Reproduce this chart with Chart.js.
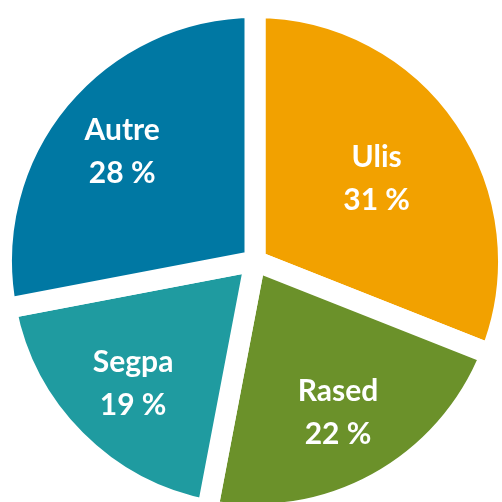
<!DOCTYPE html>
<html>
<head>
<meta charset="utf-8">
<script src="https://cdn.jsdelivr.net/npm/chart.js@4"></script>
<style>
  html, body { margin: 0; padding: 0; background: #fff; overflow: hidden; width: 502px; height: 502px; }
  #pie { position: absolute; left: -9px; top: -3px; }
</style>
</head>
<body>
<canvas id="pie" width="528" height="528"></canvas>
<script>
// parts of the pie, clockwise from the top
const categories = ['Ulis', 'Rased', 'Segpa', 'Autre'];
const shares = [31, 22, 19, 28];
const colours = ['#f2a100', '#6b912a', '#1f9ba0', '#0078a3'];
// how far out the label sits, as a share of the radius
const labelDistance = [0.58, 0.68, 0.68, 0.68];

document.addEventListener("DOMContentLoaded", function() {
    const ctx = document.getElementById('pie').getContext('2d');

    // writes "name" and "xx %" in the middle of each slice
    const sliceLabels = {
        id: 'sliceLabels',
        afterDatasetsDraw(chart) {
            const c = chart.ctx;
            const arcs = chart.getDatasetMeta(0).data;
            c.save();
            c.fillStyle = '#fff';
            c.textAlign = 'center';
            c.textBaseline = 'middle';
            c.font = 'bold 30px Lato';
            arcs.forEach((arc, i) => {
                const mid = (arc.startAngle + arc.endAngle) / 2;
                const r = arc.outerRadius * labelDistance[i];
                const x = arc.x + Math.cos(mid) * r;
                const y = arc.y + Math.sin(mid) * r;
                c.fillText(categories[i], x, y - 21);
                c.fillText(shares[i] + ' %', x, y + 22);
            });
            c.restore();
        }
    };

    new Chart(ctx, {
        type: 'pie',
        data: {
            labels: categories,
            datasets: [{
                data: shares,
                backgroundColor: colours,
                borderColor: '#fff',
                borderWidth: 21
            }]
        },
        options: {
            responsive: false,
            animation: false,
            layout: { padding: 0 },
            plugins: {
                legend: { display: false },
                tooltip: { enabled: false }
            }
        },
        plugins: [sliceLabels]
    });
});
</script>
</body>
</html>
